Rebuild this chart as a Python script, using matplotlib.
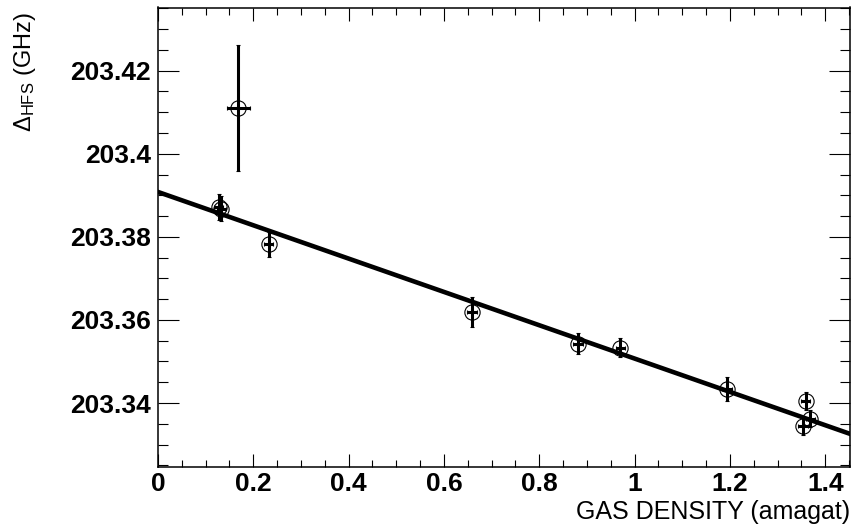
import numpy as np
import matplotlib
matplotlib.use("Agg")
import matplotlib.pyplot as plt
from matplotlib.ticker import MultipleLocator, FuncFormatter

plt.rcParams['font.family'] = ['Liberation Sans', 'DejaVu Sans']
plt.rcParams['mathtext.fontset'] = 'custom'
plt.rcParams['mathtext.rm'] = 'Liberation Sans'
plt.rcParams['mathtext.it'] = 'Liberation Sans:italic'

# data
density = [0.127, 0.133, 0.168, 0.232, 0.659, 0.881, 0.970, 1.194, 1.353, 1.359, 1.369]
delta_hfs = [203.3872, 203.3868, 203.4110, 203.3782, 203.3619, 203.3543,
             203.3533, 203.3433, 203.3344, 203.3404, 203.3362]
delta_err = [0.0032, 0.0030, 0.0152, 0.0030, 0.0036, 0.0025,
             0.0023, 0.0029, 0.0022, 0.0022, 0.0020]
density_err = [0.010, 0.010, 0.024, 0.010, 0.010, 0.010,
               0.010, 0.010, 0.010, 0.010, 0.010]

# linear fit shown on the chart
fit_intercept = 203.3908
fit_slope = -0.0401

xmin, xmax = 0.0, 1.452
ymin, ymax = 203.32467, 203.4352

fig = plt.figure(figsize=(8.57, 5.25), dpi=100)
ax = fig.add_axes([158/857, 1 - 466.7/525, 692/857, (466.7 - 7.5)/525])

ax.errorbar(density, delta_hfs, yerr=delta_err, xerr=density_err, fmt='o',
            mfc='none', mec='black', mew=0.8, ms=11, color='black',
            elinewidth=2.2, capsize=1.2, capthick=2.2, zorder=3)

fx = np.array([xmin, xmax])
ax.plot(fx, fit_intercept + fit_slope * fx, color='black', lw=3.3, zorder=2)

ax.set_xlim(xmin, xmax)
ax.set_ylim(ymin, ymax)

ax.xaxis.set_major_locator(MultipleLocator(0.2))
ax.xaxis.set_minor_locator(MultipleLocator(0.05))
ax.yaxis.set_major_locator(MultipleLocator(0.02))
ax.yaxis.set_minor_locator(MultipleLocator(0.005))
fmt = FuncFormatter(lambda v, p: ('%.3f' % v).rstrip('0').rstrip('.'))
ax.xaxis.set_major_formatter(fmt)
ax.yaxis.set_major_formatter(fmt)

ax.tick_params(axis='both', which='both', direction='in', top=True, right=True,
               width=0.8, color='black')
ax.tick_params(axis='x', which='major', length=9.5, pad=4)
ax.tick_params(axis='x', which='minor', length=5)
ax.tick_params(axis='y', which='major', length=15, pad=5)
ax.tick_params(axis='y', which='minor', length=7.5)
for lab in ax.get_xticklabels() + ax.get_yticklabels():
    lab.set_fontsize(19)
    lab.set_fontweight('bold')
for s in ax.spines.values():
    s.set_linewidth(1.1)

fig.text(850/857, 1 - 519/525, 'GAS DENSITY (amagat)', fontsize=18,
         ha='right', va='baseline')
fig.text(25/857, 1 - 12/525, r'$\mathregular{\Delta_{HFS}}$ (GHz)', fontsize=17,
         rotation=90, ha='center', va='top')

fig.savefig('out.png', dpi=100)
